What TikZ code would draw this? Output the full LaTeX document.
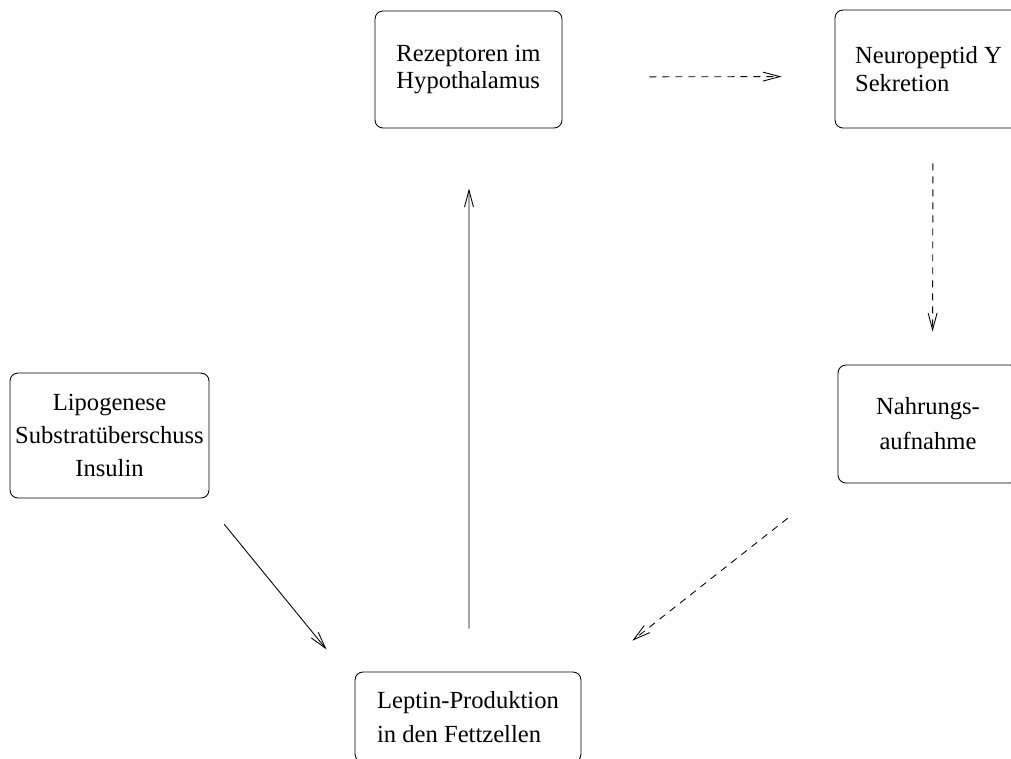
\documentclass[tikz,border=0pt]{standalone}
\usepackage{fontspec}
\setmainfont{Liberation Serif}
\usetikzlibrary{arrows.meta}
\tikzset{
  box/.style={draw, rounded corners=4.5pt, line width=0.5pt, inner sep=0pt,
    font=\fontsize{14pt}{19pt}\selectfont},
  flow/.style={line width=0.5pt, -{Straight Barb[length=3.4mm,width=1.8mm]}},
  dashflow/.style={flow, dash pattern=on 4pt off 3.4pt}
}
\begin{document}
\begin{tikzpicture}[x=0.02cm,y=-0.02cm]
    \useasboundingbox (0,0) rectangle (1011,758);
    \clip (0,0) rectangle (1011,758);
    \node[box, align=left, minimum width=3.74cm, minimum height=2.34cm,
      font=\fontsize{14pt}{15.5pt}\selectfont] (rez) at (468.5,69.5)
      {Rezeptoren im\\Hypothalamus};
    \node[box, align=left, minimum width=3.74cm, minimum height=2.36cm,
      font=\fontsize{14pt}{15.5pt}\selectfont] (npy) at (928.5,69)
      {Neuropeptid Y\\Sekretion};
    \node[box, align=center, minimum width=3.6cm, minimum height=2.36cm,
      font=\fontsize{14pt}{20pt}\selectfont] (nahr) at (928,424)
      {Nahrungs-\\aufnahme};
    \node[box, align=center, minimum width=3.98cm, minimum height=2.5cm] (lipo) at (109.5,435.5)
      {Lipogenese\\Substratüberschuss\\Insulin};
    \node[box, align=left, minimum width=4.52cm, minimum height=1.8cm] (lep) at (468,717)
      {Leptin-Produktion\\in den Fettzellen};
    \draw[dashflow, shorten <=1.74cm, shorten >=1.06cm]
      ([yshift=-0.15cm]rez.east) -- ([yshift=-0.15cm]npy.west);
    \draw[dashflow, shorten <=0.7cm, shorten >=0.66cm]
      ([xshift=0.09cm]npy.south) -- ([xshift=0.09cm]nahr.north);
    \draw[dashflow, shorten <=1.27cm, shorten >=1.0cm]
      ([yshift=0.09cm]nahr.south west) -- ([xshift=0.234cm]lep.north east);
    \draw[flow, shorten <=0.67cm, shorten >=0.57cm]
      ([xshift=-0.126cm]lipo.south east) -- ([xshift=-0.2cm]lep.north west);
    \draw[flow, shorten <=0.86cm, shorten >=1.2cm]
      ([xshift=0.02cm]lep.north) -- ([xshift=0.01cm]rez.south);
\end{tikzpicture}
\end{document}
